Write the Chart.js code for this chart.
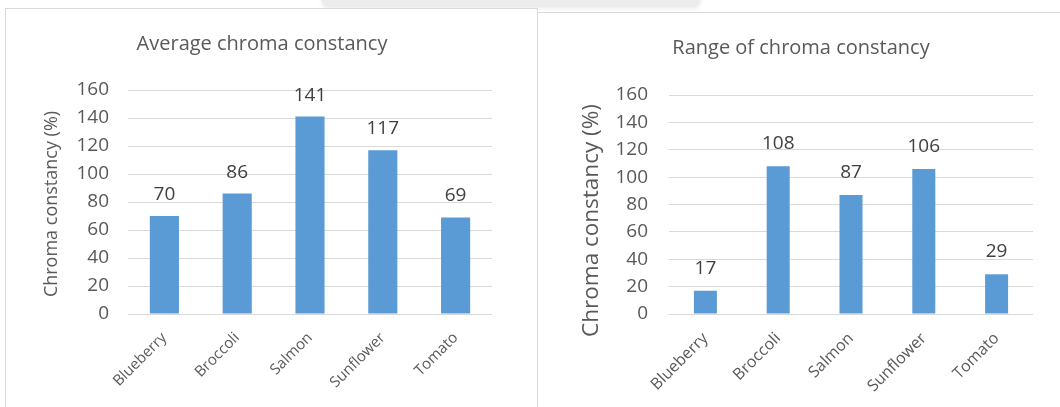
<!DOCTYPE html>
<html>
<head>
<meta charset="utf-8">
<script src="https://cdn.jsdelivr.net/npm/chart.js@4.4.1/dist/chart.umd.min.js"></script>
<style>
  html, body { margin: 0; padding: 0; background: #ffffff; }
  body { width: 1060px; height: 407px; position: relative; overflow: hidden; font-family: "Open Sans", sans-serif; }
  .strip {
    position: absolute; left: 322px; top: -6px; width: 378px; height: 12px;
    background: #ececec; border-radius: 0 0 6px 6px;
    box-shadow: 0 2px 4px rgba(0,0,0,0.10);
  }
  .panel { position: absolute; background: #ffffff; border: 1px solid #d9d9d9; box-sizing: border-box; }
  #panelA { left: 5px; top: 8px; width: 533px; height: 410px; }
  #panelB { left: 537px; top: 12px; width: 530px; height: 410px; }
  .box { position: absolute; }
  #boxA { left: 6px; top: 9px; width: 531px; height: 398px; }
  #boxB { left: 538px; top: 13px; width: 522px; height: 394px; }
</style>
</head>
<body>
<div class="strip"></div>
<div class="panel" id="panelA"></div>
<div class="panel" id="panelB"></div>
<div class="box" id="boxA"><canvas id="chartA"></canvas></div>
<div class="box" id="boxB"><canvas id="chartB"></canvas></div>
<script>
// Categories shared by both charts
const categories = ["Blueberry", "Broccoli", "Salmon", "Sunflower", "Tomato"];

// Average chroma constancy per sample (%)
const averageValues = [70, 86, 141, 117, 69];

// Range of chroma constancy per sample (%)
const rangeValues = [17, 108, 87, 106, 29];

// Value axis ticks
const yTicks = [0, 20, 40, 60, 80, 100, 120, 140, 160];

const FONT = "'Open Sans', sans-serif";
const TEXT = "#595959";
const BAR = "#5b9bd5";
const GRID = "#d9d9d9";

// Writes each bar's value above it
const valueLabels = {
  id: "valueLabels",
  afterDatasetsDraw(chart, args, opts) {
    const ctx = chart.ctx;
    const meta = chart.getDatasetMeta(0);
    const data = chart.data.datasets[0].data;
    ctx.save();
    ctx.font = opts.size + "px " + FONT;
    ctx.fillStyle = "#404040";
    ctx.textAlign = "center";
    ctx.textBaseline = "alphabetic";
    meta.data.forEach((bar, i) => {
      ctx.fillText(String(data[i]), bar.x, bar.y - opts.gap);
    });
    ctx.restore();
  }
};

// Rotated caption beside the value axis
const axisCaption = {
  id: "axisCaption",
  afterDraw(chart, args, opts) {
    const ctx = chart.ctx;
    const area = chart.chartArea;
    ctx.save();
    ctx.font = opts.size + "px " + FONT;
    ctx.fillStyle = TEXT;
    ctx.textAlign = "center";
    ctx.textBaseline = "middle";
    ctx.translate(opts.x, (area.top + area.bottom) / 2 + opts.dy);
    ctx.rotate(-Math.PI / 2);
    ctx.fillText(opts.text, 0, 0);
    ctx.restore();
  }
};

function makeChart(id, cfg) {
  return new Chart(document.getElementById(id), {
    type: "bar",
    data: {
      labels: categories,
      datasets: [{
        data: cfg.values,
        backgroundColor: BAR,
        borderWidth: 0,
        categoryPercentage: 0.8,
        barPercentage: cfg.barPct
      }]
    },
    options: {
      responsive: true,
      maintainAspectRatio: false,
      animation: false,
      layout: { padding: { left: cfg.padLeft, right: cfg.padRight, top: 10, bottom: 0 } },
      plugins: {
        legend: { display: false },
        tooltip: { enabled: false },
        title: {
          display: true,
          text: cfg.title,
          color: TEXT,
          font: { family: FONT, size: 20, weight: "normal" },
          padding: { top: cfg.titleTop, bottom: cfg.titleBottom }
        },
        valueLabels: { size: 19, gap: cfg.labelGap },
        axisCaption: { text: "Chroma constancy (%)", size: cfg.captionSize, x: cfg.captionX, dy: cfg.captionDy }
      },
      scales: {
        x: {
          grid: { display: false },
          border: { display: false },
          ticks: {
            color: TEXT,
            font: { family: FONT, size: cfg.xFont },
            maxRotation: 45,
            minRotation: 45,
            padding: 7
          },
          afterFit(scale) { scale.height = 93; }
        },
        y: {
          min: 0,
          max: 160,
          afterBuildTicks(scale) { scale.ticks = yTicks.map(v => ({ value: v })); },
          grid: { color: GRID, lineWidth: 1, drawTicks: false },
          border: { display: false },
          ticks: {
            color: TEXT,
            font: { family: FONT, size: 19 },
            padding: cfg.tickPad
          },
          afterFit(scale) { scale.width = cfg.yWidth; }
        }
      }
    },
    plugins: [valueLabels, axisCaption]
  });
}

makeChart("chartA", {
  values: averageValues,
  title: "Average chroma constancy",
  barPct: 0.5,
  padLeft: 26, padRight: 45, yWidth: 96,
  titleTop: 13, titleBottom: 34,
  labelGap: 16,
  xFont: 15,
  tickPad: 19,
  captionSize: 18, captionX: 46, captionDy: 2
});

makeChart("chartB", {
  values: rangeValues,
  title: "Range of chroma constancy",
  barPct: 0.395,
  padLeft: 31, padRight: 27, yWidth: 100,
  titleTop: 13, titleBottom: 35,
  labelGap: 17,
  xFont: 16,
  tickPad: 21,
  captionSize: 22.5, captionX: 54, captionDy: 16
});
</script>
</body>
</html>
